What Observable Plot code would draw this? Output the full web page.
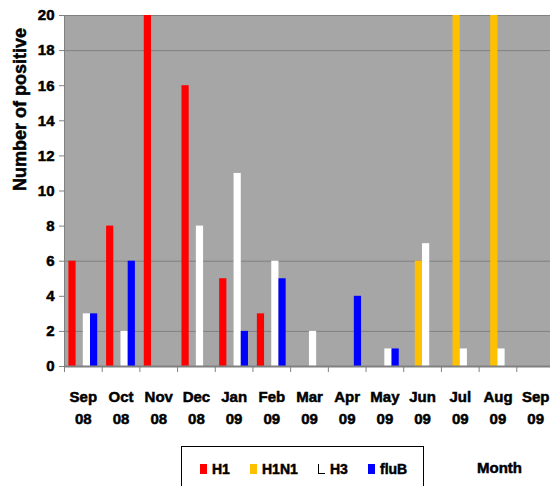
<!DOCTYPE html>
<html>
<head>
<meta charset="utf-8">
<script src="https://cdn.jsdelivr.net/npm/d3@7"></script>
<script src="https://cdn.jsdelivr.net/npm/@observablehq/plot@0.6"></script>
<style>
  html, body { margin: 0; padding: 0; background: #fff; }
  #wrap { position: relative; width: 550px; height: 486px; overflow: hidden; font-family: "Liberation Sans", Arial, sans-serif; }
  #chart svg text { stroke: #000; stroke-width: 0.5px; }
  #legend { position: absolute; left: 181px; top: 446px; width: 243px; height: 60px; border: 1.5px solid #000; box-sizing: border-box; }
  .item { position: absolute; top: 14px; font-weight: bold; font-size: 14px; line-height: 16px; display: flex; align-items: center; -webkit-text-stroke: 0.5px #000; }
  .sw { display: inline-block; width: 7px; height: 10px; margin-right: 5px; }
  #month { position: absolute; left: 477px; top: 459px; font-weight: bold; font-size: 15px; -webkit-text-stroke: 0.5px #000; }
</style>
</head>
<body>
<div id="wrap">
  <div id="chart"></div>
  <div id="legend"></div>
  <div id="month">Month</div>
</div>
<script>
const months = ["Sep 08","Oct 08","Nov 08","Dec 08","Jan 09","Feb 09","Mar 09","Apr 09","May 09","Jun 09","Jul 09","Aug 09","Sep 09"];
const seriesNames = ["H1","H1N1","H3","fluB"];
const seriesColors = ["#ff0000","#ffc000","#ffffff","#0000ff"];
const h1   = [6, 8, 20, 16, 5, 3, 0, 0, 0, 0, 0, 0, 0];
const h1n1 = [0, 0, 0, 0, 0, 0, 0, 0, 0, 6, 20, 20, 0];
const h3   = [3, 2, 0, 8, 11, 6, 2, 0, 1, 7, 1, 1, 0];
const flub = [3, 6, 0, 0, 2, 5, 0, 4, 1, 0, 0, 0, 0];
const yTicks = [0,2,4,6,8,10,12,14,16,18,20];
const gridValues = [2, 6, 18];
const yTitle = "Number of positive";

const seriesValues = [h1, h1n1, h3, flub];
const rows = [];
seriesNames.forEach((s, si) => months.forEach((m, mi) => rows.push({month: m, series: s, value: seriesValues[si][mi]})));

const W = 550, H = 486, mL = 64, mR = -4, mT = 15, mB = 120;
const step = (W - mL - mR) / months.length;
const barW = 7.2, gap0 = 4.4;

const barMarks = seriesNames.map((s, i) => Plot.barY(rows.filter(d => d.series === s && d.value > 0), {
  x: "month", y: "value",
  fill: seriesColors[i],
  insetLeft: gap0 + barW * i,
  insetRight: step - (gap0 + barW * (i + 1))
}));

const chart = Plot.plot({
  width: W, height: H,
  marginLeft: mL, marginRight: mR, marginTop: mT, marginBottom: mB,
  style: {fontFamily: "'Liberation Sans', Arial, sans-serif", background: "transparent"},
  x: {type: "band", domain: months, padding: 0, round: false, axis: null},
  y: {domain: [0, 20], axis: null},
  marks: [
    Plot.frame({fill: "#a6a6a6", stroke: "#808080"}),
    Plot.gridY(gridValues, {stroke: "#808080", strokeOpacity: 1}),
    ...barMarks,
    Plot.ruleY([0], {stroke: "#808080", strokeWidth: 2}),
    Plot.axisY(yTicks, {tickSize: 5, tickPadding: 5, stroke: "#808080", fill: "#000", fontSize: 15, fontWeight: "bold", label: null}),
    Plot.text([yTitle], {frameAnchor: "left", rotate: -90, dx: -44, fontSize: 18, fontWeight: "bold", fill: "#000"}),
    Plot.axisX({tickSize: 6, text: null, stroke: "#808080", dx: -step / 2, label: null}),
    Plot.axisX({tickSize: 0, tickPadding: 20, fill: "#000", fontSize: 15, fontWeight: "bold", lineHeight: 1.45,
      tickFormat: d => d.replace(" ", "\n"), label: null})
  ]
});
document.getElementById("chart").appendChild(chart);

const legend = document.getElementById("legend");
const itemX = [18, 68, 136, 186];
seriesNames.forEach((s, i) => {
  const it = document.createElement("div");
  it.className = "item";
  it.style.left = itemX[i] + "px";
  const sw = document.createElement("span");
  sw.className = "sw";
  sw.style.background = seriesColors[i];
  if (s === "H3") { sw.style.borderLeft = "1px solid #000"; sw.style.borderBottom = "1px solid #000"; sw.style.boxSizing = "border-box"; }
  it.appendChild(sw);
  it.appendChild(document.createTextNode(s));
  legend.appendChild(it);
});
</script>
</body>
</html>
